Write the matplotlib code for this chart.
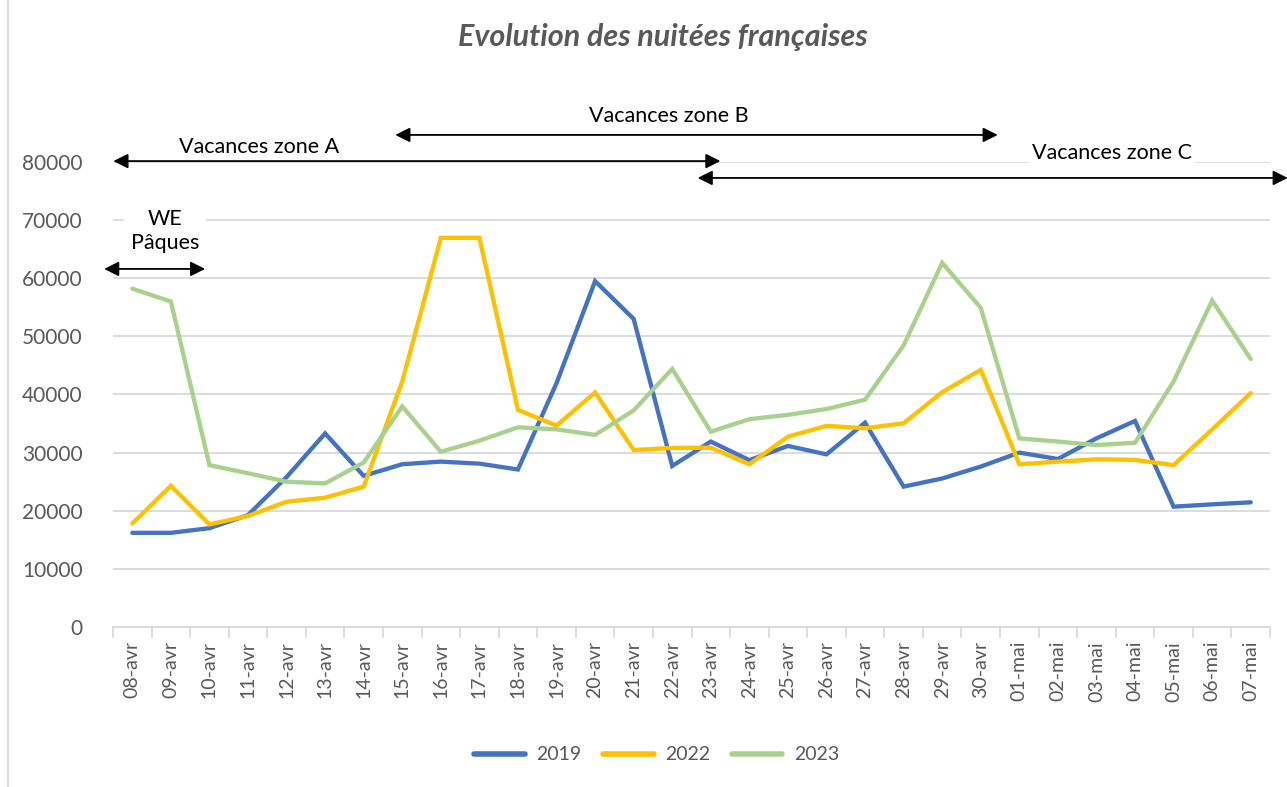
import matplotlib
matplotlib.use("Agg")
from matplotlib import pyplot as plt
from matplotlib.lines import Line2D

plt.rcParams['font.family'] = ['Lato', 'DejaVu Sans']

days = ["08-avr", "09-avr", "10-avr", "11-avr", "12-avr", "13-avr", "14-avr", "15-avr",
        "16-avr", "17-avr", "18-avr", "19-avr", "20-avr", "21-avr", "22-avr", "23-avr",
        "24-avr", "25-avr", "26-avr", "27-avr", "28-avr", "29-avr", "30-avr",
        "01-mai", "02-mai", "03-mai", "04-mai", "05-mai", "06-mai", "07-mai"]

nights_2019 = [16200, 16200, 17000, 19250, 25800, 33300, 26000, 28000, 28450, 28100,
               27100, 41950, 59500, 53000, 27700, 31900, 28700, 31150, 29700, 35150,
               24150, 25550, 27600, 30000, 28900, 32450, 35450, 20700, 21100, 21450]
nights_2022 = [17800, 24300, 17650, 19100, 21550, 22250, 24150, 42250, 66950, 66950,
               37350, 34650, 40350, 30450, 30800, 30850, 28000, 32750, 34600, 34200,
               35050, 40400, 44250, 28000, 28450, 28850, 28750, 27850, 34000, 40250]
nights_2023 = [58200, 56000, 27850, 26450, 25000, 24700, 28300, 37950, 30150, 32050,
               34350, 34000, 33050, 37250, 44400, 33600, 35750, 36500, 37500, 39100,
               48450, 62650, 54900, 32450, 31900, 31300, 31700, 42250, 56150, 46100]

series = [(nights_2019, "2019", "#4472C4"),
          (nights_2022, "2022", "#FFC000"),
          (nights_2023, "2023", "#A9D18E")]

# periodes de vacances: (debut, fin, texte, hauteur fleche, x texte, hauteur texte)
periods = [(-0.49, 15.25, "Vacances zone A", 80150, 3.3, 82600),
           (6.82, 22.44, "Vacances zone B", 84650, 13.9, 87900),
           (14.66, 29.96, "Vacances zone C", 77250, 25.4, 81550)]

fig = plt.figure(figsize=(12.87, 7.87), dpi=100)
ax = fig.add_axes([0.0878, 0.2033, 0.899, 0.5909])

x = list(range(len(days)))
for values, label, color in series:
    ax.plot(x, values, color=color, linewidth=3.1, label=label, solid_capstyle="round",
            solid_joinstyle="miter", zorder=3)

ax.set_xlim(-0.5, len(days) - 0.5)
ax.set_ylim(0, 80000)
ax.set_yticks(range(0, 80001, 10000))
ax.tick_params(axis="y", length=0, labelsize=15, labelcolor="#595959", pad=22)
ax.grid(axis="y", color="#D9D9D9", linewidth=1.3, zorder=0)
ax.set_xticks(x)
ax.set_xticklabels(days, rotation=90)
ax.set_xticks([i - 0.5 for i in range(len(days) + 1)], minor=True)
ax.tick_params(axis="x", which="major", length=0, labelsize=14, labelcolor="#595959", pad=10)
ax.tick_params(axis="x", which="minor", length=8, color="#D9D9D9", width=1.3)
for side in ["top", "right", "left"]:
    ax.spines[side].set_visible(False)
ax.spines["bottom"].set_color("#D9D9D9")
ax.spines["bottom"].set_linewidth(1.3)
ax.set_axisbelow(True)

arrow_style = dict(arrowstyle="<|-|>", color="black", lw=1.3, mutation_scale=22,
                   shrinkA=0, shrinkB=0)
for start, end, text, y_arrow, x_text, y_text in periods:
    ax.annotate("", xy=(end, y_arrow), xytext=(start, y_arrow), arrowprops=arrow_style,
                annotation_clip=False, zorder=5)
    ax.text(x_text, y_text, text, ha="center", va="center", fontsize=15.5, color="black",
            bbox=dict(facecolor="white", edgecolor="none", pad=2), clip_on=False, zorder=4)

ax.annotate("", xy=(1.89, 61600), xytext=(-0.73, 61600), arrowprops=arrow_style,
            annotation_clip=False, zorder=5)
ax.text(0.85, 68150, "WE\nPâques", ha="center", va="center", fontsize=15.5, color="black",
        linespacing=1.25, bbox=dict(facecolor="white", edgecolor="none", pad=5),
        clip_on=False, zorder=4)

fig.text(0.515, 0.953, "Evolution des nuitées françaises", ha="center", va="center",
         fontsize=22, fontweight="bold", fontstyle="italic", color="#595959")

leg = ax.legend(loc="center", bbox_to_anchor=(0.47, -0.275), ncol=3, frameon=False,
                fontsize=14, labelcolor="#595959", handlelength=2.6, columnspacing=1.1,
                handletextpad=0.6)
for line in leg.get_lines():
    line.set_linewidth(4)

fig.add_artist(Line2D([8 / 1287, 8 / 1287], [0, 1], color="#D9D9D9", linewidth=1.3))

plt.savefig("out.png", dpi=100)
